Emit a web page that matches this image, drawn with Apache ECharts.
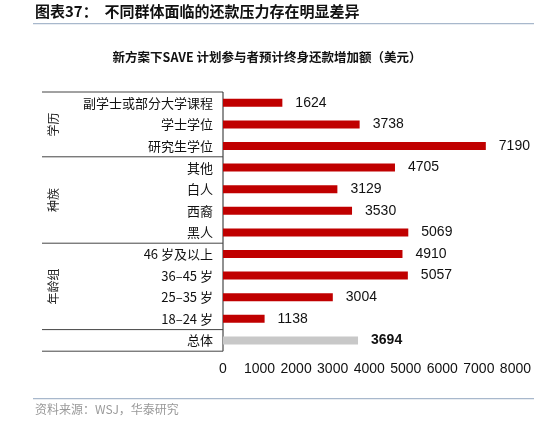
<!DOCTYPE html>
<html><head><meta charset="utf-8">
<script src="https://cdn.jsdelivr.net/npm/echarts@6/dist/echarts.min.js"></script>
<style>html,body{margin:0;padding:0;background:#fff}#c{width:534px;height:423px}</style>
</head><body><div id="c"></div>
<script>
const categories = ["副学士或部分大学课程", "学士学位", "研究生学位", "其他", "白人", "西裔", "黑人", "46 岁及以上", "36–45 岁", "25–35 岁", "18–24 岁", "总体"];
const values = [1624, 3738, 7190, 4705, 3129, 3530, 5069, 4910, 5057, 3004, 1138, 3694];
const groups = [{ name: "学历", size: 3 }, { name: "种族", size: 4 }, { name: "年龄组", size: 4 }, { name: "", size: 1 }];
const xTicks = [0, 1000, 2000, 3000, 4000, 5000, 6000, 7000, 8000];

const FONT = '"Noto Sans CJK SC", "Liberation Sans", sans-serif';
const gridTop = 92, gridLeft = 223, rowH = 21.6;
const gridH = rowH * categories.length;
const tableLeft = 42;

const graphic = [
  { type: "text", left: 35, top: 4, style: { text: "图表37：  不同群体面临的还款压力存在明显差异", font: "bold 15px " + FONT, fill: "#111" } },
  { type: "rect", shape: { x: 33, y: 23, width: 501, height: 1.2 }, style: { fill: "#a8b8cc" } },
  { type: "text", left: "center", top: 51, style: { text: "新方案下SAVE 计划参与者预计终身还款增加额（美元）", font: "bold 12.5px " + FONT, fill: "#111" } },
  { type: "rect", shape: { x: 33, y: 398, width: 501, height: 1.2 }, style: { fill: "#a8b8cc" } },
  { type: "text", left: 35, top: 403, style: { text: "资料来源：WSJ，华泰研究", font: "12px " + FONT, fill: "#999" } },
  { type: "line", shape: { x1: tableLeft, y1: gridTop, x2: gridLeft, y2: gridTop }, style: { stroke: "#444", lineWidth: 1 } },
  { type: "line", shape: { x1: gridLeft, y1: gridTop, x2: gridLeft, y2: gridTop + gridH }, style: { stroke: "#222", lineWidth: 1 } }
];
let row = 0;
groups.forEach(g => {
  const y0 = gridTop + row * rowH;
  row += g.size;
  const y1 = gridTop + row * rowH;
  graphic.push({ type: "line", shape: { x1: tableLeft, y1: y1, x2: gridLeft, y2: y1 }, style: { stroke: "#444", lineWidth: 1 } });
  if (g.name) {
    graphic.push({ type: "text", x: 53, y: (y0 + y1) / 2, rotation: Math.PI / 2, style: { text: g.name, font: "12px " + FONT, fill: "#222", align: "center", verticalAlign: "middle" } });
  }
});

const chart = echarts.init(document.getElementById("c"));
chart.setOption({
  animation: false,
  textStyle: { fontFamily: FONT },
  grid: { left: gridLeft, top: gridTop, height: gridH, right: 15 },
  xAxis: {
    type: "value", min: 0, max: 8000, interval: 1000,
    axisLine: { show: false }, axisTick: { show: false }, splitLine: { show: false },
    axisLabel: { color: "#111", fontSize: 14, fontFamily: "Liberation Sans", margin: 11, hideOverlap: false,
      formatter: v => xTicks.includes(v) ? String(v) : "" }
  },
  yAxis: {
    type: "category", inverse: true, data: categories,
    axisLine: { show: false }, axisTick: { show: false },
    axisLabel: { color: "#111", fontSize: 13, margin: 10, fontFamily: FONT }
  },
  series: [{
    type: "bar", barWidth: 8,
    data: values.map((v, i) => i === values.length - 1
      ? { value: v, itemStyle: { color: "#c8c8c8" }, label: { fontWeight: "bold" } }
      : { value: v, itemStyle: { color: "#c00000" } }),
    label: { show: true, position: "right", distance: 13, color: "#111", fontSize: 14, fontFamily: "Liberation Sans" }
  }],
  graphic: graphic
});
</script></body></html>
